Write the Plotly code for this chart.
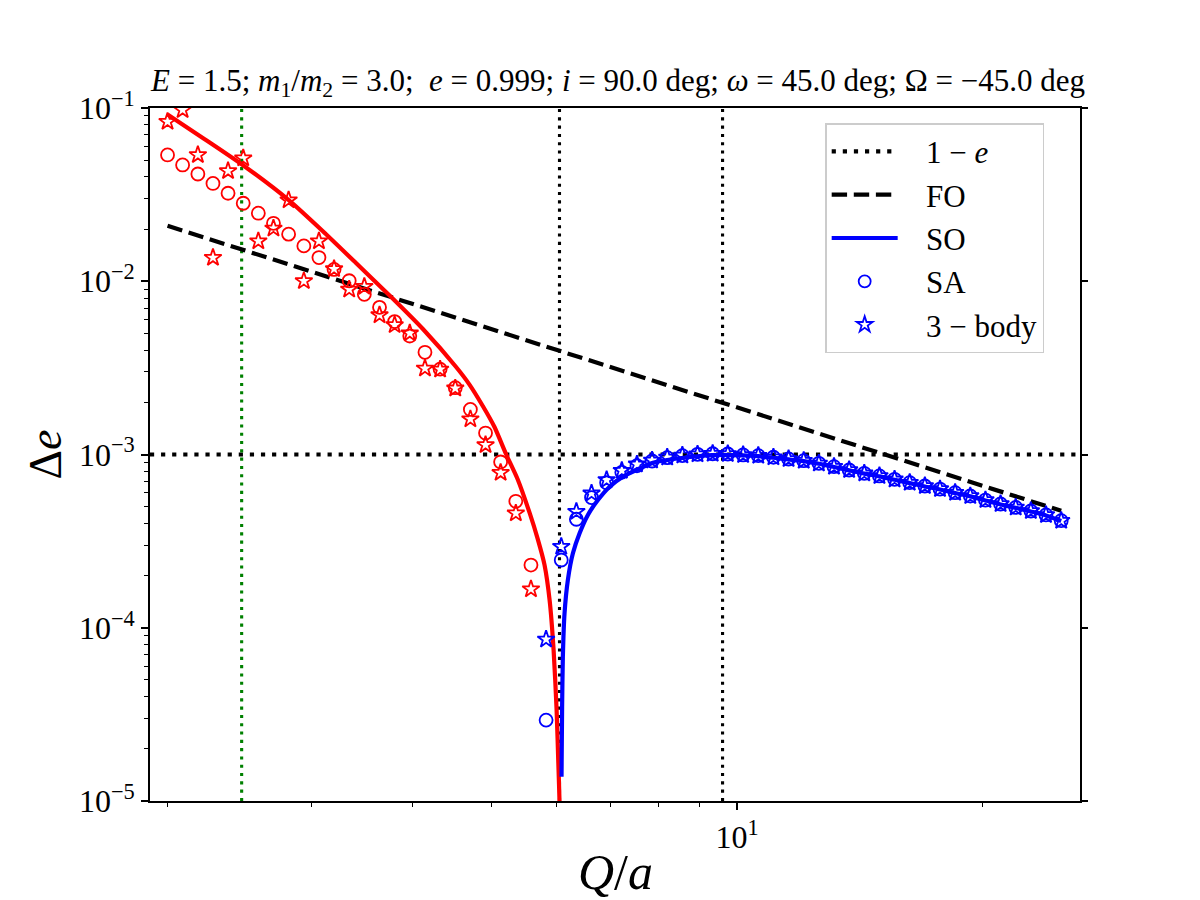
import plotly.graph_objects as go

# ---------------- data ----------------
q_over_a = [2.000, 2.087, 2.179, 2.274, 2.373, 2.477, 2.585, 2.698, 2.816, 2.940,
            3.068, 3.202, 3.342, 3.488, 3.641, 3.800, 3.966, 4.140, 4.321, 4.510,
            4.707, 4.913, 5.127, 5.352, 5.586, 5.830, 6.085, 6.351, 6.629, 6.918,
            7.221, 7.537, 7.866, 8.210, 8.569, 8.944, 9.335, 9.743, 10.175, 10.620,
            11.084, 11.569, 12.075, 12.603, 13.154, 13.729, 14.329, 14.956, 15.610, 16.292,
            17.005, 17.748, 18.524, 19.334, 20.180, 21.062, 21.983, 22.944, 23.947, 25.000]

# secular approximation (signed)
sa_de = [-0.0536, -0.0469, -0.0416, -0.0367, -0.0322, -0.0282, -0.0247, -0.0216, -0.0187, -0.0160,
         -0.0137, -0.0117, -0.01007, -0.00841, -0.00707, -0.00585, -0.00483, -0.00389, -0.00311, -0.00243,
         -0.00182, -0.00133, -0.000905, -0.000537, -0.000230, 2.93e-5, 0.000246, 0.000423, 0.000564, 0.000687,
         0.000789, 0.000861, 0.000917, 0.000959, 0.000985, 0.001002, 0.001010, 0.001007, 0.000994, 0.000985,
         0.000964, 0.000942, 0.000921, 0.000889, 0.000851, 0.000814, 0.000779, 0.000752, 0.000719, 0.000688,
         0.000658, 0.000632, 0.000602, 0.000576, 0.000546, 0.000518, 0.000495, 0.000472, 0.000448, 0.000415]

# 3-body integrations (signed)
tb_de = [-0.0834, -0.0974, -0.0536, -0.01368, -0.0433, -0.0513, -0.01705, -0.0202, -0.0294, -0.01003,
         -0.01705, -0.01177, -0.00898, -0.00931, -0.00638, -0.00559, -0.00501, -0.00314, -0.00310, -0.00241,
         -0.00160, -0.001135, -0.000785, -0.000458, -0.000167, 8.57e-5, 0.000294, 0.000468, 0.000597, 0.000713,
         0.000807, 0.000878, 0.000925, 0.000962, 0.000988, 0.001003, 0.001010, 0.001007, 0.000994, 0.000985,
         0.000964, 0.000942, 0.000921, 0.000889, 0.000851, 0.000814, 0.000779, 0.000752, 0.000719, 0.000688,
         0.000658, 0.000632, 0.000602, 0.000576, 0.000546, 0.000518, 0.000495, 0.000472, 0.000448, 0.000415]

# second-order analytic curve (signed)
so_x = [2.000, 2.219, 2.473, 2.817, 3.100, 3.407, 3.779, 4.116, 4.521, 4.695,
        4.875, 5.039, 5.209, 5.378, 5.565, 5.691, 5.805, 5.888, 5.955, 6.006,
        6.039, 6.055, 6.060,
        6.090, 6.100, 6.113, 6.142, 6.200, 6.289, 6.409, 6.561, 6.750, 6.977,
        7.244, 7.522, 7.885, 8.400, 9.000, 9.600, 10.175, 10.620, 11.084, 11.569,
        12.075, 12.603, 13.154, 13.729, 14.329, 14.956, 15.610, 16.292, 17.005, 17.748,
        18.524, 19.334, 20.180, 21.062, 21.983, 22.944, 23.947, 25.000]
so_de = [-0.0917, -0.0663, -0.0469, -0.0294, -0.01950, -0.01274, -0.007952, -0.005302, -0.003199, -0.002532,
         -0.001905, -0.001441, -0.00100, -0.000722, -0.000460, -0.000328, -0.000230, -0.0001446, -7.44e-5, -3.35e-5,
         -1.51e-5, -1.01e-5, -7.0e-6,
         1.38e-5, 3.50e-5, 6.81e-5, 1.212e-4, 1.888e-4, 2.69e-4, 3.51e-4, 4.48e-4, 5.46e-4, 6.52e-4,
         7.45e-4, 8.14e-4, 8.97e-4, 9.45e-4, 9.80e-4, 9.95e-4, 9.88e-4, 9.78e-4, 9.58e-4, 9.37e-4,
         9.16e-4, 8.85e-4, 8.47e-4, 8.10e-4, 7.75e-4, 7.48e-4, 7.15e-4, 6.84e-4, 6.54e-4, 6.28e-4,
         5.99e-4, 5.73e-4, 5.43e-4, 5.15e-4, 4.92e-4, 4.69e-4, 4.45e-4, 4.13e-4]

# first-order power law (end points)
fo_x = [2.0, 25.0]
fo_de = [0.0209, 0.000473]

one_minus_e = 0.001
vline_black = [6.055, 9.6]
vline_green = 2.466
x_limits = [1.903, 26.36]
y_limits = [1e-5, 1e-1]

title_text = ("<i>E</i> = 1.5; <i>m</i><sub>1</sub>/<i>m</i><sub>2</sub> = 3.0;  "
              "<i>e</i> = 0.999; <i>i</i> = 90.0 deg; <i>ω</i> = 45.0 deg; Ω = −45.0 deg")

legend_names = ["1 − <i>e</i>", "FO", "SO", "SA", "3 − body"]

# ---------------- figure ----------------
RED = "#ff0000"
BLUE = "#0000ff"
FONT = "Liberation Serif"
DOT_H = "4.2px,6.9px"
DOT_V = "3.1px,5.2px"
DASH = "15.4px,6.7px"
PAD = "\u00a0\u00a0\u00a0"

fig = go.Figure()

# reference lines
fig.add_trace(go.Scatter(x=x_limits, y=[one_minus_e, one_minus_e], mode="lines",
                         line=dict(color="black", width=4.2, dash=DOT_H),
                         showlegend=False, hoverinfo="skip"))
for xv in vline_black:
    fig.add_trace(go.Scatter(x=[xv, xv], y=y_limits, mode="lines",
                             line=dict(color="black", width=3.1, dash=DOT_V),
                             showlegend=False, hoverinfo="skip"))
fig.add_trace(go.Scatter(x=[vline_green, vline_green], y=y_limits, mode="lines",
                         line=dict(color="green", width=3.1, dash=DOT_V),
                         showlegend=False, hoverinfo="skip"))

# FO
fig.add_trace(go.Scatter(x=fo_x, y=fo_de, mode="lines",
                         line=dict(color="black", width=4.2, dash=DASH),
                         showlegend=False))

# SO split by sign
so_neg_x = [x for x, v in zip(so_x, so_de) if v < 0]
so_neg_y = [-v for v in so_de if v < 0]
so_pos_x = [x for x, v in zip(so_x, so_de) if v > 0]
so_pos_y = [v for v in so_de if v > 0]
fig.add_trace(go.Scatter(x=so_neg_x, y=so_neg_y, mode="lines",
                         line=dict(color=RED, width=4.2, shape="spline", smoothing=0.6),
                         showlegend=False))
fig.add_trace(go.Scatter(x=so_pos_x, y=so_pos_y, mode="lines",
                         line=dict(color=BLUE, width=4.2, shape="spline", smoothing=0.6),
                         showlegend=False))


def split(xs, vs):
    neg = ([x for x, v in zip(xs, vs) if v < 0], [-v for v in vs if v < 0])
    pos = ([x for x, v in zip(xs, vs) if v > 0], [v for v in vs if v > 0])
    return neg, pos


(sa_nx, sa_ny), (sa_px, sa_py) = split(q_over_a, sa_de)
(tb_nx, tb_ny), (tb_px, tb_py) = split(q_over_a, tb_de)

MS_C = 13
MS_S = 13
for xs, ys, sym, col, size in [(sa_nx, sa_ny, "circle-open", RED, MS_C),
                               (sa_px, sa_py, "circle-open", BLUE, MS_C),
                               (tb_nx, tb_ny, "star-open", RED, MS_S),
                               (tb_px, tb_py, "star-open", BLUE, MS_S)]:
    fig.add_trace(go.Scatter(x=xs, y=ys, mode="markers", showlegend=False,
                             marker=dict(symbol=sym, size=size, color=col,
                                         line=dict(width=1.8, color=col))))

# legend entries
fig.add_trace(go.Scatter(x=[None], y=[None], mode="lines", name=PAD + legend_names[0], legendgroup="a",
                         line=dict(color="black", width=4.2, dash=DOT_H)))
fig.add_trace(go.Scatter(x=[None], y=[None], mode="lines", name=PAD + legend_names[1], legendgroup="b",
                         line=dict(color="black", width=4.2, dash=DASH)))
fig.add_trace(go.Scatter(x=[None], y=[None], mode="lines", name=PAD + legend_names[2], legendgroup="c",
                         line=dict(color=BLUE, width=4.2)))
fig.add_trace(go.Scatter(x=[None], y=[None], mode="markers", name=PAD + legend_names[3], legendgroup="d",
                         marker=dict(symbol="circle-open", size=12, color=BLUE, line=dict(width=1.8, color=BLUE))))
fig.add_trace(go.Scatter(x=[None], y=[None], mode="markers", name=PAD + legend_names[4], legendgroup="e",
                         marker=dict(symbol="star-open", size=12, color=BLUE, line=dict(width=1.8, color=BLUE))))

# right-hand ticks axis
fig.add_trace(go.Scatter(x=[None], y=[None], yaxis="y2", showlegend=False, hoverinfo="skip"))

y_major = [1e-5, 1e-4, 1e-3, 1e-2, 1e-1]
y_major_text = ["10<sup>−5</sup>", "10<sup>−4</sup>", "10<sup>−3</sup>", "10<sup>−2</sup>", "10<sup>−1</sup>"]
y_minor = [m * 10.0 ** k for k in range(-5, -1) for m in range(2, 10)]

fig.update_layout(
    width=1200, height=900, autosize=False,
    margin=dict(l=150, r=120, t=108, b=99),
    paper_bgcolor="white", plot_bgcolor="white",
    font=dict(family=FONT, color="black", size=28),
    title=dict(text=title_text, x=618 / 1200, xanchor="center", y=1 - 80 / 900, yanchor="middle",
               yref="container", font=dict(size=31, family=FONT, color="black")),
    xaxis=dict(type="log", range=[0.2795, 1.421], showgrid=False, zeroline=False,
               showline=True, linecolor="black", linewidth=1.7, mirror=True,
               ticks="outside", ticklen=7, tickwidth=1.7, tickcolor="black",
               tickmode="array", tickvals=[10], ticktext=["10<sup>1</sup>"],
               tickfont=dict(size=32, family=FONT),
               minor=dict(ticks="outside", ticklen=4, tickwidth=1.2, tickcolor="black",
                          tickmode="array", tickvals=[2, 3, 4, 5, 6, 7, 8, 9, 20], showgrid=False)),
    yaxis=dict(type="log", range=[-5, -1], showgrid=False, zeroline=False,
               showline=True, linecolor="black", linewidth=1.7, mirror=True,
               ticks="outside", ticklen=7, tickwidth=1.7, tickcolor="black",
               tickmode="array", tickvals=y_major, ticktext=y_major_text,
               tickfont=dict(size=32, family=FONT),
               minor=dict(ticks="outside", ticklen=4, tickwidth=1.2, tickcolor="black",
                          tickmode="array", tickvals=y_minor, showgrid=False)),
    yaxis2=dict(type="log", range=[-5, -1], overlaying="y", side="right", showgrid=False,
                zeroline=False, showline=False, showticklabels=False,
                ticks="outside", ticklen=7, tickwidth=1.7, tickcolor="black",
                tickmode="array", tickvals=y_major),
    legend=dict(x=0.726, y=0.978, xanchor="left", yanchor="top",
                bgcolor="rgba(255,255,255,0.8)", bordercolor="#cccccc", borderwidth=1.5,
                font=dict(size=31, family=FONT), itemwidth=66, tracegroupgap=0),
    annotations=[
        dict(text="Δ<i>e</i>", xref="paper", yref="paper", x=(45 - 150) / 930, y=0.5,
             showarrow=False, textangle=-90, font=dict(size=46, family=FONT),
             xanchor="center", yanchor="middle"),
        dict(text="<i>Q</i>/<i>a</i>", xref="paper", yref="paper", x=0.5, y=(801 - 872) / 693,
             showarrow=False, font=dict(size=50, family=FONT), xanchor="center", yanchor="middle"),
    ],
)

fig.write_html("out.html")
